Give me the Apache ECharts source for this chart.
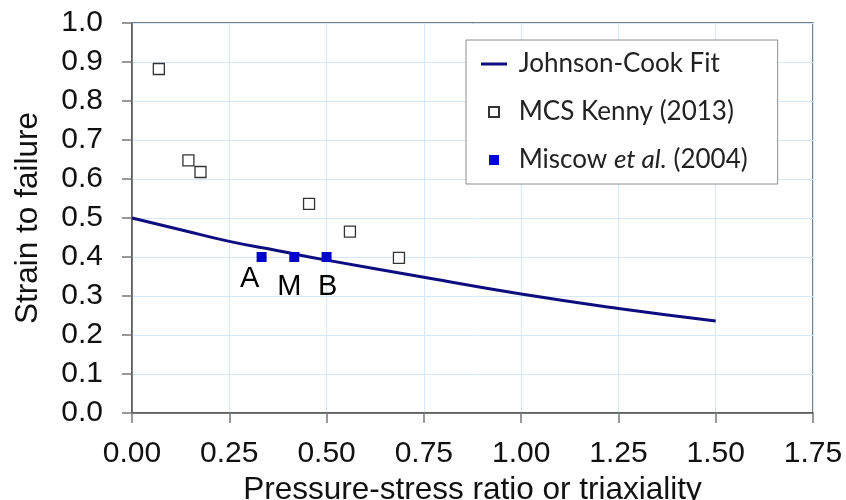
<!DOCTYPE html>
<html>
<head>
<meta charset="utf-8">
<script src="https://cdn.jsdelivr.net/npm/echarts@6/dist/echarts.min.js"></script>
<style>
  html, body { margin: 0; padding: 0; background: #fff; }
  #chart { width: 846px; height: 500px; }
</style>
</head>
<body>
<div id="chart"></div>
<script>
// Johnson-Cook fit curve
var fitX = [0, 0.125, 0.25, 0.375, 0.5, 0.75, 1.0, 1.25, 1.5];
var fitY = [0.5, 0.47, 0.44, 0.416, 0.392, 0.348, 0.305, 0.268, 0.236];

// MCS Kenny (2013) open squares
var kennyX = [0.069, 0.145, 0.176, 0.455, 0.56, 0.686];
var kennyY = [0.882, 0.648, 0.618, 0.536, 0.465, 0.398];

// Miscow et al. (2004) filled squares
var miscowX = [0.333, 0.417, 0.5];
var miscowY = [0.4, 0.4, 0.4];
var miscowLabels = ['A', 'M', 'B'];

var xTicks = ['0.00', '0.25', '0.50', '0.75', '1.00', '1.25', '1.50', '1.75'];

var chart = echarts.init(document.getElementById('chart'));

function pairs(xs, ys) {
  return xs.map(function (x, i) { return [x, ys[i]]; });
}

// label offsets so A sits a bit higher and left, like the original
var labelOffsets = [[-12, 22], [-5, 30], [1, 30]];

var squarePath = 'path://M0,0L10,0L10,10L0,10Z';
var linePath = 'path://M0,0L26,0L26,3L0,3Z';

var option = {
  animation: false,
  backgroundColor: '#ffffff',
  grid: {
    left: 132,
    right: 33,
    top: 23,
    bottom: 87,
    outerBoundsMode: 'none',
    show: true,
    borderColor: '#555555',
    borderWidth: 1.5
  },
  legend: {
    orient: 'vertical',
    left: 466,
    top: 40,
    padding: [10, 30, 10, 15],
    itemGap: 20,
    itemWidth: 26,
    itemHeight: 10,
    backgroundColor: '#ffffff',
    borderColor: '#8c8c8c',
    borderWidth: 1,
    borderRadius: 0,
    textStyle: {
      fontFamily: 'Lato',
      fontSize: 26,
      lineHeight: 28,
      color: '#222222',
      rich: {
        n: { fontFamily: 'Lato', fontSize: 26, color: '#222222' },
        i: { fontFamily: 'Lato', fontSize: 26, fontStyle: 'italic', color: '#222222' }
      }
    },
    data: [
      { name: 'Johnson-Cook Fit', icon: linePath, itemStyle: { color: '#0d0d80' } },
      { name: 'MCS Kenny (2013)', icon: squarePath },
      { name: 'Miscow et al. (2004)', icon: squarePath }
    ],
    formatter: function (name) {
      if (name === 'Miscow et al. (2004)') {
        return ' {n|Miscow }{i|et al.}{n| (2004)}';
      }
      return ' ' + name;
    }
  },
  xAxis: {
    type: 'value',
    min: 0,
    max: 1.75,
    interval: 0.25,
    name: 'Pressure-stress ratio or triaxiality',
    nameLocation: 'middle',
    nameGap: 56,
    nameTextStyle: { fontFamily: 'Liberation Sans', fontSize: 31.5, color: '#111111' },
    axisLine: { show: true, lineStyle: { color: '#555555', width: 1.5 } },
    axisTick: { show: true, inside: false, length: 10, lineStyle: { color: '#777777', width: 1.5 } },
    axisLabel: {
      fontFamily: 'Liberation Sans',
      fontSize: 30,
      color: '#111111',
      margin: 26,
      formatter: function (v) {
        return xTicks[Math.round(v / 0.25)];
      }
    },
    splitLine: { show: true, lineStyle: { color: '#d6e8fb', width: 1 } }
  },
  yAxis: {
    type: 'value',
    min: 0,
    max: 1,
    interval: 0.1,
    name: 'Strain to failure',
    nameLocation: 'middle',
    nameGap: 88,
    nameTextStyle: { fontFamily: 'Liberation Sans', fontSize: 31.5, color: '#111111' },
    axisLine: { show: true, lineStyle: { color: '#555555', width: 1.5 } },
    axisTick: { show: true, inside: false, length: 10, lineStyle: { color: '#777777', width: 1.5 } },
    axisLabel: {
      fontFamily: 'Liberation Sans',
      fontSize: 30,
      color: '#111111',
      margin: 29,
      formatter: function (v) { return v.toFixed(1); }
    },
    splitLine: { show: true, lineStyle: { color: '#d6e8fb', width: 1 } }
  },
  series: [
    {
      name: 'Johnson-Cook Fit',
      type: 'line',
      smooth: true,
      symbol: 'none',
      lineStyle: { color: '#0d0d80', width: 3 },
      itemStyle: { color: '#0d0d80' },
      data: pairs(fitX, fitY),
      z: 2
    },
    {
      name: 'MCS Kenny (2013)',
      type: 'scatter',
      symbol: 'rect',
      symbolSize: 11,
      itemStyle: { color: '#ffffff', borderColor: '#333333', borderWidth: 1.3, opacity: 1 },
      data: pairs(kennyX, kennyY),
      z: 3
    },
    {
      name: 'Miscow et al. (2004)',
      type: 'scatter',
      symbol: 'rect',
      symbolSize: 10,
      itemStyle: { color: '#0000cc', opacity: 1 },
      data: miscowX.map(function (x, i) {
        return {
          value: [x, miscowY[i]],
          label: {
            show: true,
            position: 'inside',
            offset: labelOffsets[i],
            formatter: miscowLabels[i],
            fontFamily: 'Liberation Sans',
            fontSize: 29,
            color: '#000000'
          }
        };
      }),
      z: 4
    }
  ]
};

chart.setOption(option);
</script>
</body>
</html>
